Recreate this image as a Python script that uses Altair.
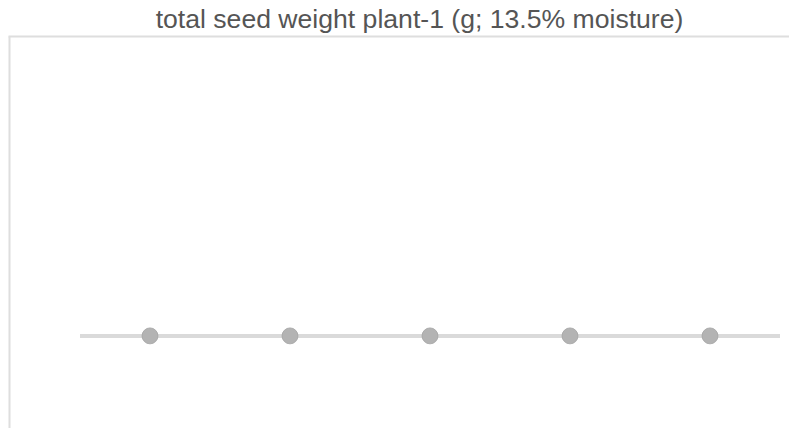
import altair as alt
import pandas as pd

title_text = "total seed weight plant-1 (g; 13.5% moisture)"
categories = ["1", "2", "3", "4", "5"]
positions = [1, 2, 3, 4, 5]
values = [23.5, 23.5, 23.5, 23.5, 23.5]

W = 781
H = 392

pts = pd.DataFrame({"cat": categories, "pos": positions, "value": values})
seg = pd.DataFrame({"start": [min(positions) - 0.5], "end": [max(positions) + 0.5], "value": [values[0]]})

step = 140.0
x0 = 2.0
xscale = alt.Scale(domain=[-x0 / step, (W - x0) / step], nice=False, zero=False)
yscale = alt.Scale(domain=[0, 100], nice=False)

xaxis = alt.Axis(orient="top", labels=False, ticks=False, grid=False, title=None,
                 domainColor="#dedede", domainWidth=2, minExtent=0, maxExtent=0)
yaxis = alt.Axis(orient="left", labels=False, ticks=False, grid=False, title=None,
                 domainColor="#dedede", domainWidth=2, offset=-1, minExtent=0, maxExtent=0)

line = alt.Chart(seg).mark_rule(color="#dadada", strokeWidth=4, strokeCap="butt").encode(
    x=alt.X("start:Q", scale=xscale, axis=xaxis),
    x2="end:Q",
    y=alt.Y("value:Q", scale=yscale, axis=yaxis),
)

dots = alt.Chart(pts).mark_circle(size=254, opacity=1, color="#b3b3b3",
                                  stroke="#a2a2a2", strokeWidth=0.8).encode(
    x=alt.X("pos:Q", scale=xscale),
    y=alt.Y("value:Q", scale=yscale),
)

chart = alt.layer(line, dots).properties(
    width=W,
    height=H,
    title=alt.TitleParams(title_text, anchor="middle", dx=21, fontSize=26.6,
                          font="Liberation Sans", fontWeight="normal",
                          color="#555555", offset=2),
    autosize=alt.AutoSizeParams(type="none"),
    padding={"left": 0, "top": 28, "right": 0, "bottom": 0},
).configure_view(strokeWidth=0)

chart.save("out.html", embed_options={"renderer": "svg", "actions": False})
